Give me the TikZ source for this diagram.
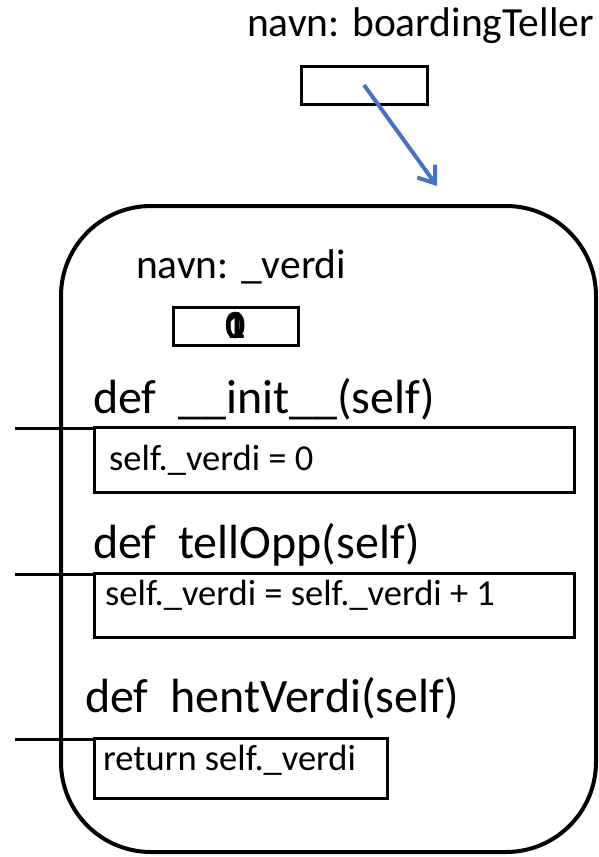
\documentclass[tikz,border=0pt]{standalone}
\usepackage{fontspec}
\setmainfont{Carlito}
\usetikzlibrary{arrows.meta,positioning}
\definecolor{pilblaa}{RGB}{68,114,196}

\begin{document}
\begin{tikzpicture}[x=1pt,y=-1pt,>={Straight Barb[length=15pt,width=22pt]},
                    boks/.style={draw,line width=3pt,inner sep=0pt},
                    tekst/.style={anchor=base west,inner sep=0pt},
                    navn/.style={tekst,font=\fontsize{41.5}{50}\selectfont},
                    metode/.style={tekst,font=\fontsize{48}{58}\selectfont},
                    kode/.style={tekst,font=\fontsize{36.5}{44}\selectfont},
                    siffer/.style={font=\fontsize{40}{46}\selectfont\bfseries}]

  \useasboundingbox (0,0) rectangle (598,857);

  % variabelen boardingTeller
  \node[navn] (tellerNavn) at (247,36) {navn: boardingTeller};
  \node[boks,minimum width=126pt,minimum height=38pt] (tellerBox) at (364,85) {};

  % objektet
  \node[draw,line width=4pt,rounded corners=90pt,minimum width=535pt,
        minimum height=646pt] (objekt) at (328.5,529) {};
  \coordinate (pilSpiss) at (437,186);
  \draw[->,line width=4pt,pilblaa] (tellerBox.center) -- (pilSpiss);

  \node[navn] (verdiNavn) at (136,278) {navn: \_verdi};
  \node[boks,minimum width=125pt,minimum height=38pt] (verdiBox) at (235.5,326) {};
  \node[siffer] (verdiNull) at (verdiBox.center) {0};
  \node[siffer] (verdiEn) at (verdiBox.center) {1};

  % metodene
  \node[metode] (initNavn) at (93,413) {def\ \ \_\_init\_\_(self)};
  \node[boks,minimum width=480pt,minimum height=65pt] (initBox) at (334,459.5) {};
  \node[kode] (initKode) at (109,470) {self.\_verdi = 0};
  \coordinate (initStart) at (15,428);
  \draw[line width=3pt] (initStart) -- (initStart -| initBox.west);

  \node[metode] (tellNavn) at (93,558) {def\ \ tellOpp(self)};
  \node[boks,minimum width=480pt,minimum height=64pt] (tellBox) at (334,605) {};
  \node[kode] (tellKode) at (105,605) {self.\_verdi = self.\_verdi + 1};
  \coordinate (tellStart) at (15,574);
  \draw[line width=3pt] (tellStart) -- (tellStart -| tellBox.west);

  \node[metode] (hentNavn) at (85,712) {def\ \ hentVerdi(self)};
  \node[boks,minimum width=293pt,minimum height=60pt] (hentBox) at (240.5,768) {};
  \node[kode] (hentKode) at (103,770) {return self.\_verdi};
  \coordinate (hentStart) at (15,739);
  \draw[line width=3pt] (hentStart) -- (hentStart -| hentBox.west);

\end{tikzpicture}
\end{document}
